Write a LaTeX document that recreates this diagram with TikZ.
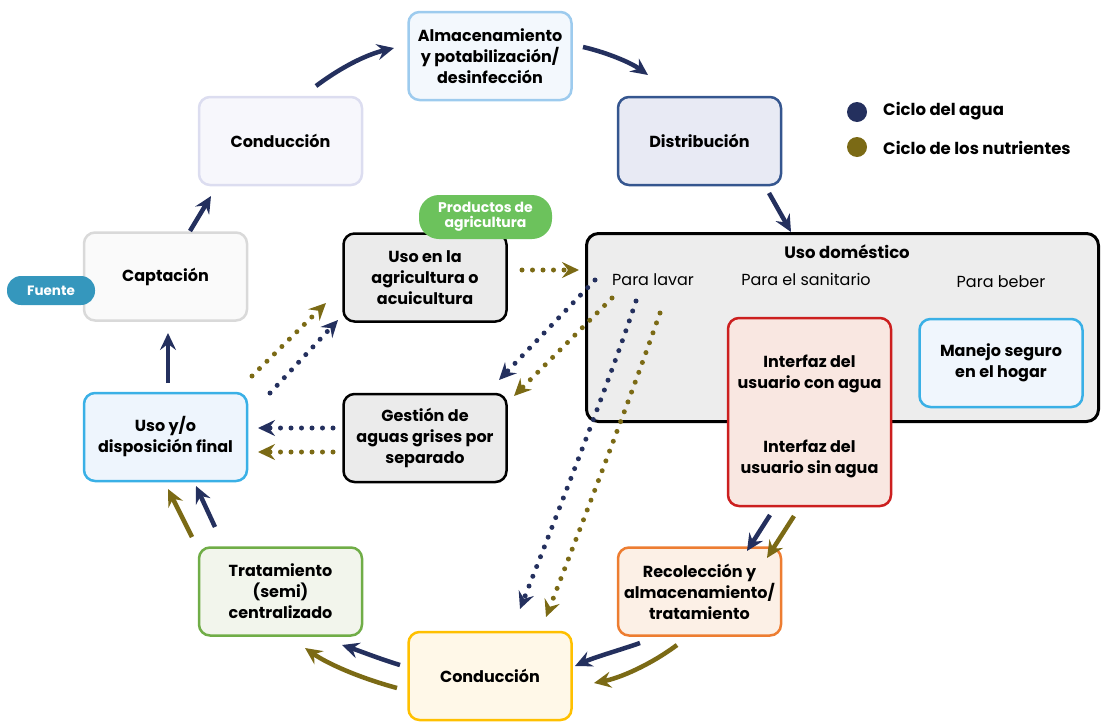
\documentclass[tikz,border=0pt]{standalone}
\usepackage{fontspec}
\setmainfont{Poppins}
\usetikzlibrary{arrows.meta}
\definecolor{navy}{HTML}{24305E}
\definecolor{olive}{HTML}{7B6A15}
\definecolor{bdblue}{HTML}{9DCBEE}
\definecolor{flblue}{HTML}{F3F8FD}
\definecolor{bdlav}{HTML}{DCDDF0}
\definecolor{fllav}{HTML}{F7F7FC}
\definecolor{bddist}{HTML}{35568F}
\definecolor{fldist}{HTML}{E8EAF4}
\definecolor{bdgray}{HTML}{D9D9D9}
\definecolor{flgray}{HTML}{FAFAFA}
\definecolor{flmid}{HTML}{EBEBEB}
\definecolor{bdsky}{HTML}{3AB0E6}
\definecolor{flsky}{HTML}{EEF5FD}
\definecolor{flsky2}{HTML}{F0F6FD}
\definecolor{bdred}{HTML}{CC1F1F}
\definecolor{flred}{HTML}{F9E7E1}
\definecolor{bdgreen}{HTML}{70AD47}
\definecolor{flgreen}{HTML}{F2F5EC}
\definecolor{bdorange}{HTML}{ED7D31}
\definecolor{florange}{HTML}{FCF0E6}
\definecolor{bdyellow}{HTML}{FFC000}
\definecolor{flyellow}{HTML}{FFF8E8}
\definecolor{badgeblue}{HTML}{3597BD}
\definecolor{badgegreen}{HTML}{6CC25C}
\definecolor{domfill}{HTML}{EDEDED}
\tikzset{
  box/.style={draw, rounded corners=11pt, line width=2.5pt, align=center,
    inner sep=0pt, minimum width=163pt, minimum height=88pt,
    font=\bfseries\fontsize{16}{21}\selectfont},
  badge/.style={rounded corners=14pt, align=center, inner sep=0pt, text=white,
    font=\bfseries\fontsize{13.5}{14}\selectfont},
  plain/.style={font=\fontsize{16}{18}\selectfont, inner sep=0pt},
  legtext/.style={anchor=west, inner sep=0pt, font=\bfseries\fontsize{16.5}{18}\selectfont},
  tip/.style={-{Stealth[length=17pt,width=16pt,inset=6pt]}},
  flow/.style={tip, line width=4.5pt},
  dflow/.style={tip, line width=5pt, line cap=round, dash pattern=on 0pt off 10.5pt},
}
\begin{document}
\begin{tikzpicture}[x=1pt,y=-1pt]
\useasboundingbox (0,0) rectangle (1102,726);

% domestic use big box
\node[draw=black, fill=domfill, line width=3pt, rounded corners=12pt, minimum width=512pt, minimum height=188pt, inner sep=0pt] (dom) at (842.5,327.5) {};
\node[font=\bfseries\fontsize{16.5}{18}\selectfont, inner sep=0pt] (domt) at (847,252) {Uso doméstico};
\node[plain] (lavar) at (653,280) {Para lavar};
\node[plain] (sanit) at (806,279) {Para el sanitario};
\node[plain] (beber) at (1001,282) {Para beber};

% boxes
\node[box, draw=bdblue, fill=flblue] (alm) at (490,56) {Almacenamiento\\y potabilización/\\desinfección};
\node[box, draw=bdlav, fill=fllav] (cond1) at (280.5,141) {Conducción};
\node[box, draw=bddist, fill=fldist] (dist) at (699.5,141) {Distribución};
\node[box, draw=bdgray, fill=flgray] (capt) at (165.5,276.5) {Captación};
\node[box, draw=black, fill=flmid] (agri) at (425,277.5) {Uso en la\\agricultura o\\acuicultura};
\node[box, draw=bdsky, fill=flsky] (usoy) at (165.5,437) {Uso y/o\\disposición final};
\node[box, draw=black, fill=flmid] (gest) at (425,438) {Gestión de\\aguas grises por\\separado};
\node[box, draw=bdgreen, fill=flgreen] (trat) at (280.5,591.5) {Tratamiento\\(semi)\\centralizado};
\node[box, draw=bdorange, fill=florange] (recol) at (699.5,591.5) {Recolección y\\almacenamiento/\\tratamiento};
\node[box, draw=bdyellow, fill=flyellow] (cond2) at (490,676) {Conducción};
\node[box, draw=bdred, fill=flred, minimum height=188pt] (inter) at (809.5,412) {};
\node[font=\bfseries\fontsize{16}{21}\selectfont, align=center, inner sep=0pt] (inter1) at (809.5,374) {Interfaz del\\usuario con agua};
\node[font=\bfseries\fontsize{16}{21}\selectfont, align=center, inner sep=0pt] (inter2) at (809.5,459) {Interfaz del\\usuario sin agua};
\node[box, draw=bdsky, fill=flsky2] (manejo) at (1001,363) {Manejo seguro\\en el hogar};

% badges
\node[badge, fill=badgeblue, minimum width=88pt, minimum height=29pt] (fuente) at (51,290.5) {Fuente};
\node[badge, fill=badgegreen, minimum width=133pt, minimum height=44pt, rounded corners=20pt, font=\bfseries\fontsize{14}{15}\selectfont] (prod) at (485.5,217) {Productos de\\agricultura};

% legend
\node[circle, fill=navy, minimum size=20pt, inner sep=0pt] (lwd) at (857,112) {};
\node[legtext] (lwt) at (883,111) {Ciclo del agua};
\node[circle, fill=olive, minimum size=20pt, inner sep=0pt] (lnd) at (857,147) {};
\node[legtext] (lnt) at (883,148) {Ciclo de los nutrientes};

% coordinates for arrow ends
\coordinate (c1s) at (316,86);   \coordinate (c1e) at (394,48);
\coordinate (c2s) at (583,47);   \coordinate (c2e) at (648,75);
\coordinate (c3s) at (190,231);  \coordinate (c3e) at (211,196);
\coordinate (c4s) at (769,193);  \coordinate (c4e) at (791,232);
\coordinate (c5s) at (168,383);  \coordinate (c5e) at (168,333);
\coordinate (c6s) at (215,527);  \coordinate (c6e) at (196,486);
\coordinate (c7s) at (192,537);  \coordinate (c7e) at (168,489);
\coordinate (c8s) at (770,515);  \coordinate (c8e) at (747,551);
\coordinate (c9s) at (794,516);  \coordinate (c9e) at (767,558);
\coordinate (c10s) at (640,643); \coordinate (c10e) at (575,666);
\coordinate (c11s) at (677,645); \coordinate (c11e) at (594,683);
\coordinate (c12s) at (400,665); \coordinate (c12e) at (342,645);
\coordinate (c13s) at (397,688); \coordinate (c13e) at (305,648);

% solid flows
\draw[flow, navy] (c1s) .. controls (340,68) and (365,55) .. (c1e);
\draw[flow, navy] (c2s) .. controls (605,52) and (630,62) .. (c2e);
\draw[flow, navy] (c3s) -- (c3e);
\draw[flow, navy] (c4s) -- (c4e);
\draw[flow, navy] (c5s) -- (c5e);
\draw[flow, navy] (c6s) -- (c6e);
\draw[flow, olive] (c7s) -- (c7e);
\draw[flow, navy] (c8s) -- (c8e);
\draw[flow, olive] (c9s) -- (c9e);
\draw[flow, navy] (c10s) .. controls (620,650) and (595,657) .. (c10e);
\draw[flow, olive] (c11s) .. controls (650,665) and (620,678) .. (c11e);
\draw[flow, navy] (c12s) .. controls (380,659) and (360,651) .. (c12e);
\draw[flow, olive] (c13s) .. controls (360,678) and (328,664) .. (c13e);

% dotted flows
\coordinate (d1s) at (522,270);  \coordinate (d1e) at (579,270);
\coordinate (d2s) at (595,280);  \coordinate (d2e) at (499,380);
\coordinate (d3s) at (612,298);  \coordinate (d3e) at (514,396);
\coordinate (d4s) at (333,428);  \coordinate (d4e) at (258,428);
\coordinate (d5s) at (333,452);  \coordinate (d5e) at (258,452);
\coordinate (d6s) at (252,376);  \coordinate (d6e) at (326,303);
\coordinate (d7s) at (270,393);  \coordinate (d7e) at (338,320);
\coordinate (d8s) at (636,301);  \coordinate (d8e) at (520,609);
\coordinate (d9s) at (660,313);  \coordinate (d9e) at (546,617);

\draw[dflow, olive] (d1s) -- (d1e);
\draw[dflow, navy] (d2s) -- (d2e);
\draw[dflow, olive] (d3s) -- (d3e);
\draw[dflow, navy] (d4s) -- (d4e);
\draw[dflow, olive] (d5s) -- (d5e);
\draw[dflow, olive] (d6s) -- (d6e);
\draw[dflow, navy] (d7s) -- (d7e);
\draw[dflow, navy] (d8s) .. controls (628,325) and (610,380) .. (d8e);
\draw[dflow, olive] (d9s) .. controls (652,335) and (634,390) .. (d9e);
\end{tikzpicture}
\end{document}
